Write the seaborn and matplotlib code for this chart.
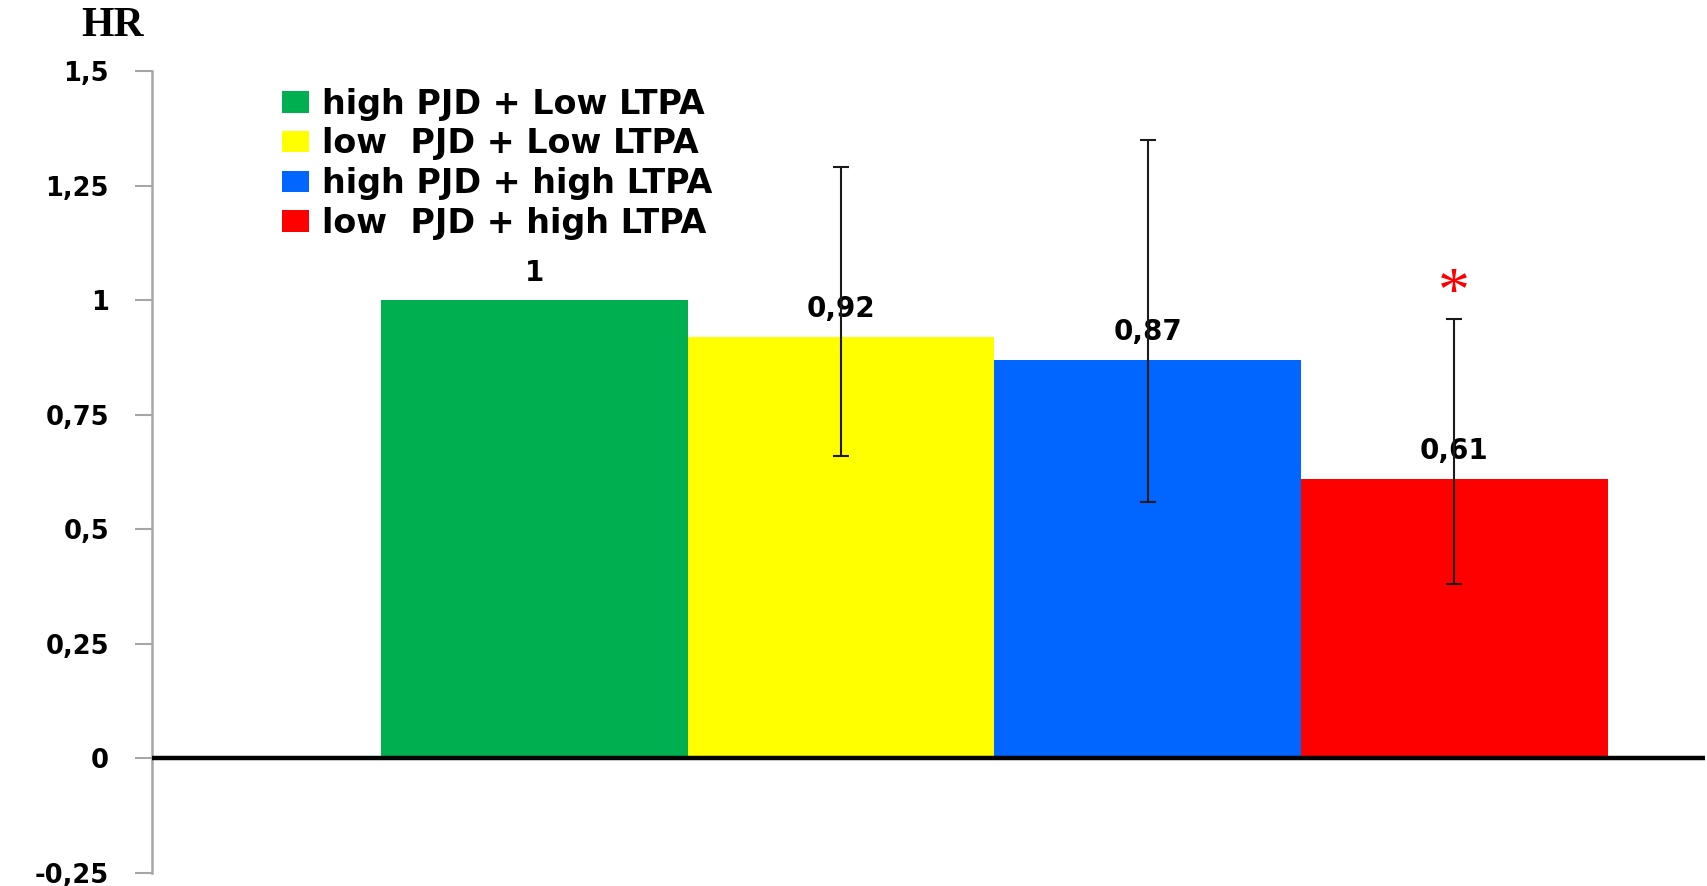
import numpy as np
import pandas as pd
import matplotlib.pyplot as plt
import seaborn as sns
from matplotlib.patches import Patch

# Data
groups = ['high PJD + Low LTPA', 'low  PJD + Low LTPA',
          'high PJD + high LTPA', 'low  PJD + high LTPA']
hr = [1.0, 0.92, 0.87, 0.61]
ci_low = [np.nan, 0.66, 0.56, 0.38]
ci_high = [np.nan, 1.29, 1.35, 0.96]
value_labels = ['1', '0,92', '0,87', '0,61']
significant = [False, False, False, True]
ytick_vals = [-0.25, 0, 0.25, 0.5, 0.75, 1, 1.25, 1.5]
ytick_labels = ['-0,25', '0', '0,25', '0,5', '0,75', '1', '1,25', '1,5']
colors = ['#00B050', '#FFFF00', '#0066FF', '#FF0000']

df = pd.DataFrame({'group': groups, 'hr': hr})

sns.set_style('white')
plt.rcParams['font.family'] = ['DejaVu Sans']
plt.rcParams['text.color'] = 'black'

fig = plt.figure(figsize=(17.08, 8.86), dpi=100)
ax = fig.add_axes([0.089, 0.0147, 0.909, 0.905])

sns.barplot(data=df, x='group', y='hr', hue='group', palette=colors,
            width=1.0, legend=False, ax=ax, saturation=1, linewidth=0)

# confidence intervals
x = np.arange(len(groups))
lo = np.array(hr) - np.array(ci_low)
hi = np.array(ci_high) - np.array(hr)
ax.errorbar(x, hr, yerr=[lo, hi], fmt='none', ecolor='#1a1a1a',
            elinewidth=1.5, capsize=5.5, capthick=1.5, zorder=5)

for i, (v, lab) in enumerate(zip(hr, value_labels)):
    ax.text(i, v + 0.06, lab, ha='center', va='center', fontsize=20,
            fontweight='bold', color='black', zorder=4)
    if significant[i]:
        ax.text(i, ci_high[i] + 0.05, '*', ha='center', va='center',
                fontsize=46, color='red', family='Liberation Serif', zorder=4)

ax.axhline(0, color='black', lw=3.2, zorder=3)

ax.set_xlim(-1.246, 3.816)
ax.set_ylim(-0.25, 1.5)
ax.set_yticks(ytick_vals)
ax.set_yticklabels(ytick_labels, fontsize=18.5, fontweight='bold', color='black')
ax.set_xticks([])
ax.set_xlabel('')
ax.set_ylabel('')
ax.tick_params(axis='y', direction='out', length=12, width=1.5,
               color='#a6a6a6', pad=19, left=True)
for s in ['top', 'right', 'bottom']:
    ax.spines[s].set_visible(False)
ax.spines['left'].set_color('#a6a6a6')
ax.spines['left'].set_linewidth(1.8)

fig.text(0.066, 0.971, 'HR', ha='center', va='center', fontsize=30,
         fontweight='bold', family='Liberation Serif', color='black')

handles = [Patch(facecolor=c, edgecolor='none') for c in colors]
leg = fig.legend(handles, groups, loc='upper left', bbox_to_anchor=(0.165, 0.901),
                 frameon=False, prop={'size': 24, 'weight': 'bold'},
                 handlelength=0.82, handleheight=0.6, handletextpad=0.4,
                 labelspacing=0.2, borderpad=0, borderaxespad=0)
for t in leg.get_texts():
    t.set_color('black')

fig.savefig('out.png', dpi=100)
